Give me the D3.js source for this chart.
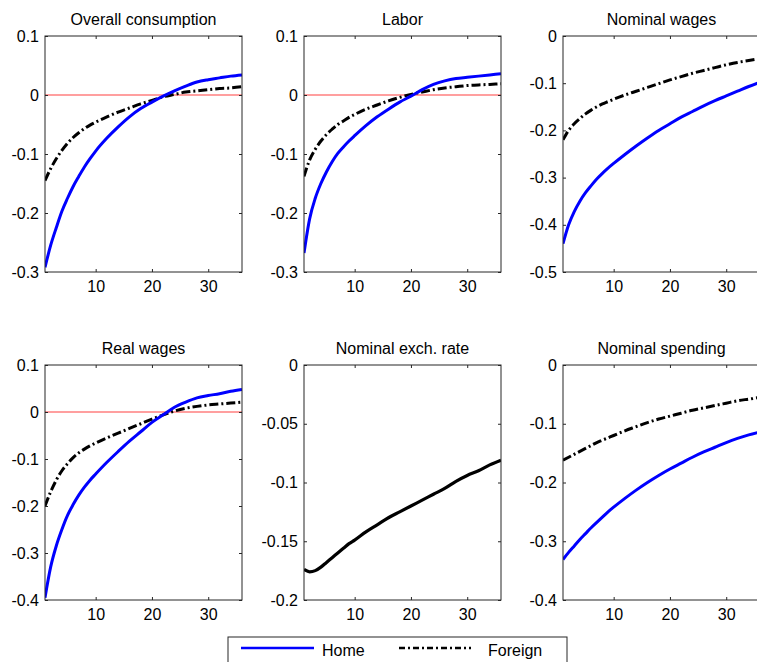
<!DOCTYPE html>
<html>
<head>
<meta charset="utf-8">
<script src="https://cdn.jsdelivr.net/npm/d3@7"></script>
<style>
body { margin: 0; background: #fff; }
svg { display: block; font-family: Arial, "Liberation Sans", sans-serif; }
</style>
</head>
<body>
<svg id="svg"></svg>
<script>
// periods after the shock (x axis)
var periods = [1,2,3,4,5,6,7,8,9,10,12,14,16,18,20,22,24,26,28,30,32,34,36];
var xTicks = [10, 20, 30];

var titles = ["Overall consumption", "Labor", "Nominal wages", "Real wages", "Nominal exch. rate", "Nominal spending"];

var yTicks1 = [-0.3, -0.2, -0.1, 0, 0.1];
var yTicks2 = [-0.3, -0.2, -0.1, 0, 0.1];
var yTicks3 = [-0.5, -0.4, -0.3, -0.2, -0.1, 0];
var yTicks4 = [-0.4, -0.3, -0.2, -0.1, 0, 0.1];
var yTicks5 = [-0.2, -0.15, -0.1, -0.05, 0];
var yTicks6 = [-0.4, -0.3, -0.2, -0.1, 0];

var consHome    = [-0.292,-0.255,-0.225,-0.197,-0.175,-0.155,-0.138,-0.122,-0.108,-0.095,-0.073,-0.054,-0.037,-0.023,-0.012,-0.002,0.007,0.015,0.022,0.026,0.029,0.032,0.034];
var consForeign = [-0.145,-0.125,-0.108,-0.094,-0.082,-0.072,-0.064,-0.057,-0.051,-0.046,-0.037,-0.029,-0.022,-0.015,-0.009,-0.003,0.001,0.005,0.007,0.009,0.011,0.012,0.014];

var laborHome    = [-0.268,-0.21,-0.175,-0.15,-0.13,-0.113,-0.099,-0.088,-0.078,-0.069,-0.052,-0.037,-0.024,-0.012,-0.002,0.009,0.018,0.024,0.028,0.030,0.032,0.034,0.036];
var laborForeign = [-0.138,-0.11,-0.092,-0.078,-0.067,-0.058,-0.05,-0.044,-0.038,-0.033,-0.024,-0.017,-0.01,-0.004,0.001,0.005,0.009,0.012,0.014,0.016,0.017,0.018,0.019];

var nomWageHome    = [-0.44,-0.4,-0.372,-0.35,-0.332,-0.317,-0.303,-0.291,-0.28,-0.27,-0.251,-0.233,-0.216,-0.2,-0.186,-0.172,-0.16,-0.148,-0.137,-0.127,-0.117,-0.107,-0.098];
var nomWageForeign = [-0.22,-0.2,-0.186,-0.175,-0.165,-0.157,-0.15,-0.144,-0.139,-0.134,-0.125,-0.117,-0.109,-0.101,-0.093,-0.086,-0.079,-0.073,-0.067,-0.061,-0.056,-0.052,-0.048];

var realWageHome    = [-0.395,-0.33,-0.285,-0.25,-0.22,-0.197,-0.177,-0.16,-0.145,-0.132,-0.107,-0.084,-0.062,-0.042,-0.022,-0.006,0.01,0.021,0.03,0.035,0.039,0.044,0.048];
var realWageForeign = [-0.2,-0.17,-0.145,-0.125,-0.11,-0.097,-0.087,-0.079,-0.072,-0.066,-0.055,-0.045,-0.035,-0.025,-0.015,-0.006,0.002,0.008,0.012,0.015,0.017,0.019,0.021];

var exchRate = [-0.174,-0.176,-0.175,-0.172,-0.168,-0.164,-0.16,-0.156,-0.152,-0.149,-0.142,-0.136,-0.13,-0.125,-0.12,-0.115,-0.11,-0.105,-0.099,-0.094,-0.09,-0.085,-0.081];

var spendHome    = [-0.331,-0.319,-0.308,-0.297,-0.287,-0.277,-0.268,-0.259,-0.25,-0.242,-0.227,-0.213,-0.2,-0.188,-0.177,-0.167,-0.157,-0.148,-0.14,-0.132,-0.125,-0.119,-0.114];
var spendForeign = [-0.162,-0.157,-0.152,-0.147,-0.142,-0.137,-0.132,-0.128,-0.124,-0.12,-0.112,-0.105,-0.098,-0.092,-0.087,-0.082,-0.077,-0.073,-0.069,-0.065,-0.061,-0.058,-0.055];

var legendLabels = ["Home", "Foreign"];

var panels = [
  {title: titles[0], ticks: yTicks1, home: consHome, foreign: consForeign, zero: true},
  {title: titles[1], ticks: yTicks2, home: laborHome, foreign: laborForeign, zero: true},
  {title: titles[2], ticks: yTicks3, home: nomWageHome, foreign: nomWageForeign, zero: false},
  {title: titles[3], ticks: yTicks4, home: realWageHome, foreign: realWageForeign, zero: true},
  {title: titles[4], ticks: yTicks5, single: exchRate, zero: false},
  {title: titles[5], ticks: yTicks6, home: spendHome, foreign: spendForeign, zero: false}
];

var W = 757, H = 662;
var colLeft = [45, 304, 563], plotW = 197;
var rowTop = [36, 365], rowBottom = [272, 600];
var axisColor = "#262626";
var dashDot = "9,3,2,3";

var svg = d3.select("#svg").attr("width", W).attr("height", H);

function fmt(d) { return String(+d.toFixed(2)); }

panels.forEach(function(p, i) {
  var col = i % 3, row = Math.floor(i / 3);
  var left = colLeft[col], top = rowTop[row], bottom = rowBottom[row];

  var x = d3.scaleLinear().domain([1, 36]).range([left, left + plotW]);
  var y = d3.scaleLinear().domain([p.ticks[0], p.ticks[p.ticks.length - 1]]).range([bottom, top]);

  var g = svg.append("g");

  g.append("clipPath").attr("id", "clip" + i)
    .append("rect").attr("x", left).attr("y", top).attr("width", plotW).attr("height", bottom - top);

  var plot = g.append("g").attr("clip-path", "url(#clip" + i + ")");

  if (p.zero) {
    plot.append("line")
      .attr("x1", left).attr("x2", left + plotW)
      .attr("y1", y(0)).attr("y2", y(0))
      .attr("stroke", "#ff7f7f").attr("stroke-width", 1.3);
  }

  var line = d3.line()
    .x(function(d) { return x(d[0]); })
    .y(function(d) { return y(d[1]); })
    .curve(d3.curveMonotoneX);

  function pts(vals) { return periods.map(function(t, j) { return [t, vals[j]]; }); }

  if (p.single) {
    plot.append("path").attr("d", line(pts(p.single)))
      .attr("fill", "none").attr("stroke", "#000").attr("stroke-width", 3.2);
  } else {
    plot.append("path").attr("d", line(pts(p.foreign)))
      .attr("fill", "none").attr("stroke", "#000").attr("stroke-width", 3)
      .attr("stroke-dasharray", dashDot);
    plot.append("path").attr("d", line(pts(p.home)))
      .attr("fill", "none").attr("stroke", "#0000ff").attr("stroke-width", 3);
  }

  // axes with inward ticks on all four sides
  g.append("g").attr("transform", "translate(" + left + ",0)")
    .call(d3.axisLeft(y).tickValues(p.ticks).tickFormat(fmt).tickSizeInner(-3).tickSizeOuter(0).tickPadding(6));
  g.append("g").attr("transform", "translate(" + (left + plotW) + ",0)")
    .call(d3.axisRight(y).tickValues(p.ticks).tickFormat("").tickSizeInner(-3).tickSizeOuter(0));
  g.append("g").attr("transform", "translate(0," + bottom + ")")
    .call(d3.axisBottom(x).tickValues(xTicks).tickFormat(d3.format("d")).tickSizeInner(-3).tickSizeOuter(0).tickPadding(9));
  g.append("g").attr("transform", "translate(0," + top + ")")
    .call(d3.axisTop(x).tickValues(xTicks).tickFormat("").tickSizeInner(-3).tickSizeOuter(0));

  g.selectAll(".domain").remove();
  g.selectAll(".tick line").attr("stroke", axisColor);
  g.selectAll(".tick text").attr("fill", "#000");
  g.selectAll("g").attr("font-size", 16).attr("font-family", "Arial, 'Liberation Sans', sans-serif");

  g.append("rect")
    .attr("x", left).attr("y", top).attr("width", plotW).attr("height", bottom - top)
    .attr("fill", "none").attr("stroke", axisColor).attr("stroke-width", 1);

  g.append("text")
    .attr("x", left + plotW / 2).attr("y", top - 11)
    .attr("text-anchor", "middle").attr("font-size", 16).attr("fill", "#000")
    .text(p.title);
});

// legend
var lg = svg.append("g");
lg.append("rect").attr("x", 228).attr("y", 637).attr("width", 339).attr("height", 40)
  .attr("fill", "#fff").attr("stroke", axisColor);
lg.append("line").attr("x1", 241).attr("x2", 314).attr("y1", 648).attr("y2", 648)
  .attr("stroke", "#0000ff").attr("stroke-width", 2.5);
lg.append("text").attr("x", 322).attr("y", 656).attr("font-size", 16).text(legendLabels[0]);
lg.append("line").attr("x1", 399).attr("x2", 471).attr("y1", 648).attr("y2", 648)
  .attr("stroke", "#000").attr("stroke-width", 2.5).attr("stroke-dasharray", "6,3,2,3");
lg.append("text").attr("x", 488).attr("y", 656).attr("font-size", 16).text(legendLabels[1]);
</script>
</body>
</html>
